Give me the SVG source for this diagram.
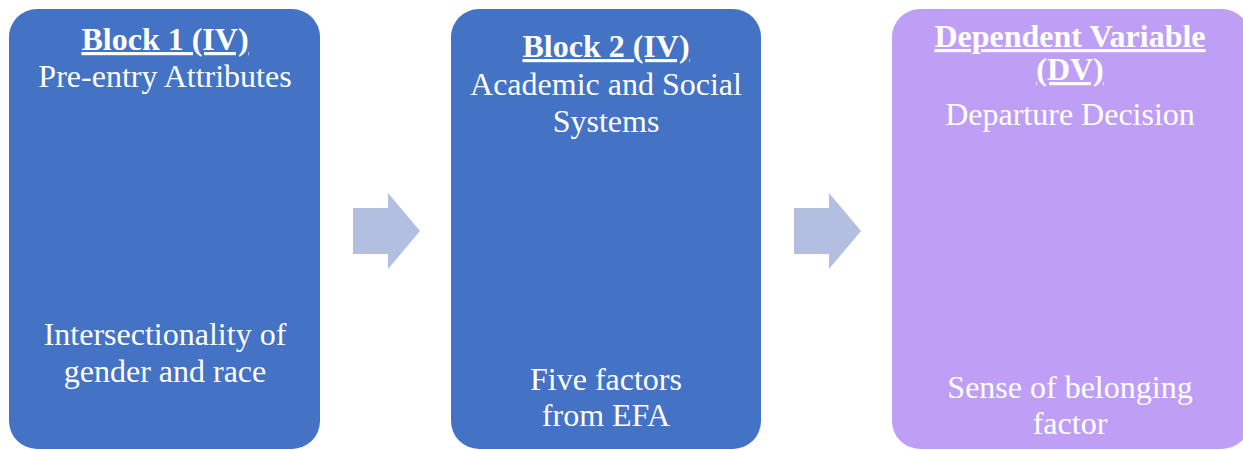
<svg xmlns="http://www.w3.org/2000/svg" width="1243" height="450" viewBox="0 0 1243 450">
  <style>
    .iv { fill: #4472C4; }
    .dv { fill: #BF9FF6; }
    .arrow { fill: #B2BFE1; }
    text { font-family: "Liberation Serif", "Times New Roman", serif; font-size: 32px; fill: #FFFFFF; text-anchor: middle; }
    .title { font-weight: bold; text-decoration: underline; }
  </style>
  <rect width="1243" height="450" fill="#FFFFFF"/>

  <g id="block1">
    <rect class="iv" x="9" y="9" width="311" height="440" rx="28" ry="28"/>
    <text class="title" x="165" y="50">Block 1 (IV)</text>
    <text x="165" y="87">Pre-entry Attributes</text>
    <text x="165" y="345">Intersectionality of</text>
    <text x="165" y="382">gender and race</text>
  </g>

  <g id="block2">
    <rect class="iv" x="451" y="9" width="310" height="440" rx="28" ry="28"/>
    <text class="title" x="606" y="57">Block 2 (IV)</text>
    <text x="606" y="95">Academic and Social</text>
    <text x="606" y="132">Systems</text>
    <text x="606" y="390">Five factors</text>
    <text x="606" y="426">from EFA</text>
  </g>

  <g id="dependent">
    <rect class="dv" x="892" y="9" width="358" height="440" rx="28" ry="28"/>
    <text class="title" x="1070" y="47">Dependent Variable</text>
    <text class="title" x="1070" y="80">(DV)</text>
    <text x="1070" y="125">Departure Decision</text>
    <text x="1070" y="398">Sense of belonging</text>
    <text x="1070" y="434">factor</text>
  </g>

  <g id="connectors">
    <polygon class="arrow" points="353,208 388,208 388,193 420,231 388,269 388,254 353,254"/>
    <polygon class="arrow" points="794,208 829,208 829,193 861,231 829,269 829,254 794,254"/>
  </g>
</svg>
